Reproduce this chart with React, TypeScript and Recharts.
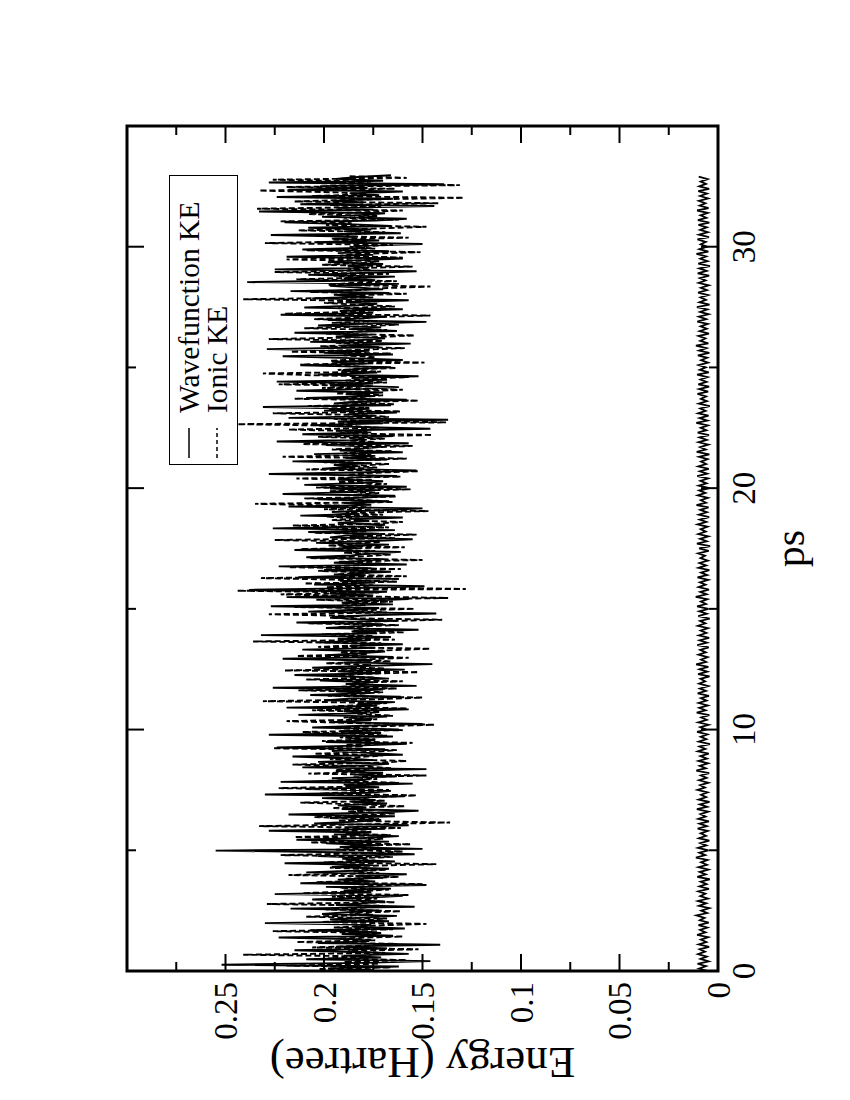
import React from 'react';
import { LineChart, Line, XAxis, YAxis } from 'recharts';

// ---------------- data ----------------
// time sampling (ps) of each series
const IONIC_START_PS = 0.0;
const IONIC_STEP_PS = 0.075;
const BAND_START_PS = 0.035;
const BAND_STEP_PS = 0.075;
const WAVE_START_PS = 0.0;
const WAVE_STEP_PS = 0.1;

// Ionic KE (Hartree), dashed
const IONIC_KE = [
  0.181,0.203,0.166,0.219,0.172,0.190,0.158,0.198,0.176,0.241,
  0.169,0.188,0.152,0.206,0.179,0.163,0.214,0.174,0.193,0.160,
  0.184,0.171,0.226,0.165,0.195,0.177,0.148,0.201,0.182,0.168,
  0.209,0.175,0.187,0.161,0.199,0.180,0.170,0.229,0.164,0.186,
  0.173,0.196,0.157,0.211,0.183,0.167,0.192,0.176,0.150,0.204,
  0.178,0.189,0.162,0.218,0.172,0.185,0.168,0.197,0.181,0.143,
  0.200,0.174,0.191,0.165,0.222,0.179,0.160,0.194,0.175,0.187,
  0.156,0.207,0.180,0.170,0.215,0.166,0.189,0.176,0.198,0.161,
  0.233,0.178,0.136,0.193,0.172,0.205,0.183,0.164,0.188,0.174,
  0.196,0.159,0.182,0.212,0.169,0.186,0.175,0.153,0.202,0.180,
  0.167,0.223,0.177,0.190,0.162,0.199,0.173,0.185,0.148,0.208,
  0.179,0.194,0.166,0.181,0.216,0.171,0.158,0.197,0.184,0.170,
  0.205,0.176,0.163,0.226,0.180,0.189,0.155,0.201,0.174,0.192,
  0.168,0.182,0.211,0.160,0.195,0.177,0.144,0.187,0.219,0.173,
  0.190,0.165,0.183,0.172,0.206,0.158,0.196,0.179,0.168,0.231,
  0.175,0.150,0.198,0.184,0.170,0.213,0.163,0.191,0.178,0.186,
  0.160,0.209,0.174,0.195,0.181,0.152,0.220,0.169,0.188,0.176,
  0.199,0.166,0.183,0.157,0.214,0.178,0.192,0.170,0.146,0.203,
  0.180,0.171,0.236,0.164,0.189,0.175,0.201,0.159,0.185,0.177,
  0.193,0.162,0.208,0.176,0.140,0.197,0.182,0.228,0.168,0.187,
  0.154,0.215,0.179,0.191,0.165,0.204,0.137,0.186,0.222,0.172,
  0.244,0.128,0.199,0.175,0.210,0.163,0.188,0.232,0.158,0.195,
  0.177,0.203,0.161,0.218,0.184,0.169,0.193,0.150,0.207,0.180,
  0.166,0.190,0.174,0.212,0.159,0.198,0.183,0.171,0.225,0.164,
  0.187,0.153,0.205,0.178,0.194,0.167,0.216,0.175,0.160,0.196,
  0.182,0.199,0.170,0.189,0.147,0.200,0.176,0.192,0.235,0.165,
  0.178,0.210,0.163,0.185,0.172,0.197,0.156,0.204,0.181,0.168,
  0.193,0.175,0.214,0.161,0.188,0.179,0.152,0.209,0.173,0.186,
  0.167,0.200,0.184,0.158,0.221,0.176,0.190,0.165,0.196,0.180,
  0.155,0.211,0.174,0.187,0.169,0.203,0.145,0.192,0.178,0.218,
  0.172,0.186,0.244,0.138,0.183,0.195,0.167,0.179,0.226,0.161,
  0.198,0.177,0.208,0.164,0.190,0.152,0.215,0.181,0.170,0.194,
  0.184,0.160,0.201,0.175,0.223,0.168,0.189,0.178,0.157,0.206,
  0.231,0.171,0.193,0.163,0.186,0.212,0.149,0.197,0.180,0.174,
  0.190,0.166,0.217,0.183,0.159,0.202,0.176,0.194,0.170,0.228,
  0.177,0.154,0.199,0.185,0.168,0.210,0.181,0.162,0.196,0.173,
  0.205,0.179,0.146,0.220,0.187,0.171,0.193,0.164,0.183,0.200,
  0.169,0.241,0.175,0.191,0.158,0.207,0.182,0.173,0.146,0.198,
  0.186,0.163,0.214,0.178,0.195,0.167,0.225,0.176,0.188,0.155,
  0.201,0.180,0.172,0.219,0.160,0.192,0.184,0.151,0.209,0.174,
  0.187,0.165,0.230,0.178,0.196,0.157,0.204,0.183,0.169,0.213,
  0.176,0.148,0.199,0.186,0.222,0.162,0.190,0.173,0.208,0.181,
  0.160,0.234,0.171,0.197,0.142,0.215,0.183,0.129,0.206,0.178,
  0.193,0.233,0.164,0.219,0.131,0.202,0.176,0.226,0.158,0.188,
];

// second (solid) trace in the upper band, no legend entry
const BAND_SOLID = [
  0.175,0.198,0.162,0.252,0.180,0.146,0.209,0.171,0.190,0.157,
  0.186,0.215,0.168,0.194,0.141,0.203,0.177,0.183,0.223,0.165,
  0.191,0.173,0.207,0.159,0.185,0.176,0.230,0.167,0.197,0.181,
  0.163,0.201,0.188,0.172,0.217,0.154,0.194,0.179,0.169,0.206,
  0.180,0.160,0.225,0.176,0.190,0.166,0.199,0.148,0.212,0.174,
  0.193,0.170,0.184,0.158,0.209,0.181,0.167,0.196,0.175,0.220,
  0.164,0.189,0.178,0.203,0.154,0.185,0.255,0.150,0.192,0.172,
  0.199,0.167,0.214,0.180,0.162,0.195,0.176,0.228,0.169,0.187,
  0.157,0.205,0.183,0.171,0.197,0.164,0.218,0.175,0.152,0.191,
  0.180,0.193,0.168,0.186,0.174,0.201,0.159,0.230,0.177,0.166,
  0.209,0.172,0.189,0.155,0.222,0.179,0.196,0.163,0.185,0.170,
  0.194,0.148,0.211,0.181,0.167,0.203,0.175,0.189,0.216,0.160,
  0.178,0.196,0.169,0.224,0.183,0.158,0.199,0.174,0.187,0.165,
  0.228,0.171,0.192,0.162,0.206,0.180,0.150,0.197,0.176,0.185,
  0.168,0.213,0.179,0.190,0.157,0.219,0.173,0.183,0.164,0.200,
  0.186,0.161,0.207,0.177,0.194,0.170,0.226,0.153,0.189,0.175,
  0.202,0.167,0.184,0.215,0.172,0.193,0.159,0.206,0.180,0.145,
  0.190,0.176,0.221,0.165,0.198,0.182,0.169,0.211,0.174,0.187,
  0.160,0.204,0.178,0.193,0.166,0.232,0.173,0.186,0.152,0.199,
  0.181,0.170,0.214,0.163,0.188,0.196,0.177,0.143,0.208,0.184,
  0.172,0.227,0.165,0.191,0.180,0.157,0.219,0.175,0.197,0.168,
  0.238,0.183,0.149,0.205,0.174,0.192,0.162,0.213,0.179,0.188,
  0.166,0.200,0.176,0.223,0.158,0.195,0.181,0.170,0.209,0.186,
  0.178,0.161,0.215,0.183,0.191,0.167,0.204,0.175,0.155,0.197,
  0.189,0.172,0.208,0.164,0.226,0.180,0.169,0.193,0.177,0.185,
  0.160,0.212,0.182,0.196,0.171,0.150,0.218,0.176,0.190,0.167,
  0.203,0.179,0.164,0.221,0.185,0.174,0.197,0.158,0.210,0.181,
  0.170,0.193,0.186,0.163,0.228,0.177,0.153,0.201,0.184,0.195,
  0.176,0.216,0.168,0.189,0.174,0.205,0.160,0.192,0.181,0.171,
  0.199,0.157,0.224,0.179,0.187,0.165,0.211,0.176,0.194,0.146,
  0.182,0.206,0.170,0.193,0.137,0.218,0.175,0.188,0.163,0.200,
  0.177,0.231,0.166,0.195,0.183,0.158,0.209,0.174,0.189,0.170,
  0.214,0.180,0.162,0.197,0.175,0.224,0.168,0.186,0.152,0.203,
  0.173,0.191,0.184,0.166,0.212,0.178,0.196,0.160,0.187,0.221,
  0.165,0.200,0.177,0.229,0.172,0.190,0.156,0.207,0.181,0.169,
  0.194,0.176,0.215,0.163,0.186,0.171,0.203,0.182,0.148,0.198,
  0.180,0.168,0.222,0.175,0.192,0.160,0.210,0.185,0.173,0.189,
  0.157,0.206,0.179,0.195,0.167,0.217,0.170,0.183,0.197,0.162,
  0.239,0.174,0.190,0.164,0.208,0.181,0.153,0.225,0.177,0.188,
  0.170,0.198,0.184,0.160,0.219,0.175,0.193,0.167,0.211,0.179,
  0.185,0.150,0.204,0.172,0.196,0.183,0.227,0.161,0.190,0.176,
  0.208,0.166,0.188,0.220,0.174,0.158,0.201,0.182,0.169,0.233,
  0.175,0.193,0.144,0.212,0.180,0.196,0.165,0.224,0.172,0.187,
  0.160,0.218,0.178,0.202,0.139,0.228,0.170,0.194,0.183,0.166,
];

// Wavefunction KE (Hartree), solid, close to zero
const WAVEFUNCTION_KE = [
  0.0052,0.0096,0.0061,0.0104,0.0048,0.0089,0.0057,0.0101,0.0066,0.0093,
  0.0045,0.0098,0.0059,0.0087,0.0050,0.0106,0.0063,0.0091,0.0054,0.0099,
  0.0047,0.0092,0.0068,0.0109,0.0055,0.0085,0.0044,0.0097,0.0060,0.0102,
  0.0051,0.0090,0.0064,0.0100,0.0046,0.0094,0.0058,0.0088,0.0042,0.0105,
  0.0062,0.0093,0.0049,0.0099,0.0056,0.0086,0.0053,0.0112,0.0065,0.0095,
  0.0048,0.0101,0.0059,0.0090,0.0044,0.0097,0.0061,0.0088,0.0052,0.0103,
  0.0057,0.0094,0.0046,0.0100,0.0063,0.0089,0.0050,0.0107,0.0055,0.0092,
  0.0043,0.0098,0.0060,0.0086,0.0053,0.0104,0.0066,0.0091,0.0049,0.0096,
  0.0058,0.0087,0.0045,0.0110,0.0062,0.0093,0.0051,0.0099,0.0056,0.0089,
  0.0047,0.0102,0.0064,0.0094,0.0041,0.0097,0.0059,0.0088,0.0054,0.0106,
  0.0060,0.0090,0.0048,0.0100,0.0057,0.0085,0.0044,0.0108,0.0063,0.0095,
  0.0052,0.0098,0.0058,0.0087,0.0046,0.0103,0.0061,0.0092,0.0050,0.0096,
  0.0065,0.0089,0.0043,0.0101,0.0055,0.0094,0.0049,0.0111,0.0060,0.0086,
  0.0053,0.0099,0.0062,0.0090,0.0047,0.0105,0.0056,0.0093,0.0045,0.0097,
  0.0059,0.0088,0.0051,0.0102,0.0064,0.0091,0.0042,0.0100,0.0057,0.0095,
  0.0048,0.0106,0.0061,0.0087,0.0054,0.0113,0.0058,0.0090,0.0046,0.0098,
  0.0063,0.0092,0.0050,0.0104,0.0055,0.0086,0.0044,0.0099,0.0060,0.0094,
  0.0052,0.0089,0.0066,0.0101,0.0047,0.0096,0.0040,0.0107,0.0057,0.0091,
  0.0049,0.0100,0.0062,0.0088,0.0053,0.0103,0.0059,0.0093,0.0045,0.0097,
  0.0056,0.0090,0.0048,0.0109,0.0061,0.0087,0.0051,0.0102,0.0064,0.0095,
  0.0043,0.0098,0.0058,0.0089,0.0050,0.0105,0.0055,0.0092,0.0047,0.0100,
  0.0060,0.0086,0.0053,0.0096,0.0044,0.0108,0.0062,0.0091,0.0049,0.0099,
  0.0057,0.0094,0.0046,0.0103,0.0059,0.0088,0.0052,0.0110,0.0054,0.0093,
  0.0048,0.0101,0.0063,0.0090,0.0042,0.0097,0.0056,0.0087,0.0061,0.0104,
  0.0050,0.0095,0.0045,0.0100,0.0058,0.0089,0.0053,0.0106,0.0047,0.0092,
  0.0062,0.0098,0.0051,0.0086,0.0055,0.0102,0.0044,0.0096,0.0059,0.0112,
  0.0049,0.0090,0.0064,0.0099,0.0046,0.0093,0.0057,0.0088,0.0052,0.0105,
  0.0060,0.0097,0.0048,0.0091,0.0054,0.0107,0.0043,0.0094,0.0061,0.0089,
  0.0050,0.0101,0.0056,0.0087,0.0047,0.0098,0.0063,0.0092,0.0045,0.0103,
  0.0058,0.0095,0.0041,0.0100,0.0053,0.0090,0.0060,0.0109,0.0049,0.0094,
  0.0055,0.0088,0.0062,0.0104,0.0046,0.0096,0.0051,0.0091,0.0057,0.0099,
  0.0044,0.0102,0.0059,0.0089,0.0052,0.0106,0.0048,0.0093,0.0064,0.0097,
  0.0050,0.0091,0.0056,0.0100,0.0045,0.0095,0.0061,0.0088,0.0053,0.0098,
];

const PS_TICKS = [0, 5, 10, 15, 20, 25, 30, 35];
const PS_DOMAIN: [number, number] = [0, 35];
const ENERGY_TICKS = [0, 0.025, 0.05, 0.075, 0.1, 0.125, 0.15, 0.175, 0.2, 0.225, 0.25, 0.275, 0.3];
const ENERGY_DOMAIN: [number, number] = [0, 0.3];
const ENERGY_LABELLED_MAX = 0.25;

const X_TITLE = 'ps';
const Y_TITLE = 'Energy (Hartree)';
const LEGEND_WAVE = 'Wavefunction KE';
const LEGEND_IONIC = 'Ionic KE';

// ---------------- layout ----------------
const CHART_W = 1100;
const CHART_H = 850;
const MARGIN = { top: 127, right: 126, bottom: 82, left: 69 };
const X_AXIS_H = 50;
const Y_AXIS_W = 60;
const PLOT_LEFT = MARGIN.left + Y_AXIS_W;
const PLOT_RIGHT = CHART_W - MARGIN.right;
const PLOT_TOP = MARGIN.top;
const PLOT_BOTTOM = CHART_H - MARGIN.bottom - X_AXIS_H;
const FONT = "'Liberation Serif', 'Times New Roman', Times, serif";
const TICK_FONT = 33;
const DASH = '6 3';

const toSeries = (vals: number[], start: number, step: number) =>
  vals.map((e, i) => ({ ps: +(start + i * step).toFixed(4), e }));

const ionicData = toSeries(IONIC_KE, IONIC_START_PS, IONIC_STEP_PS);
const bandData = toSeries(BAND_SOLID, BAND_START_PS, BAND_STEP_PS);
const waveData = toSeries(WAVEFUNCTION_KE, WAVE_START_PS, WAVE_STEP_PS);

function PsTick(props: any) {
  const { payload } = props;
  const v = payload.value as number;
  const cx = payload.coordinate ?? props.x;
  const major = v % 10 === 0;
  const len = major ? 17 : 9;
  return (
    <g>
      <line x1={cx} x2={cx} y1={PLOT_BOTTOM} y2={PLOT_BOTTOM - len} stroke="#000" strokeWidth={2} />
      <line x1={cx} x2={cx} y1={PLOT_TOP} y2={PLOT_TOP + len} stroke="#000" strokeWidth={2} />
      {major && (
        <text x={cx} y={PLOT_BOTTOM + 14} dy="0.71em" textAnchor="middle" fontFamily={FONT} fontSize={TICK_FONT} fill="#000">
          {String(v)}
        </text>
      )}
    </g>
  );
}

function EnergyTick(props: any) {
  const { payload } = props;
  const v = payload.value as number;
  const cy = payload.coordinate ?? props.y;
  const major = Math.round(v * 1000) % 50 === 0;
  const len = major ? 17 : 9;
  return (
    <g>
      <line x1={PLOT_LEFT} x2={PLOT_LEFT + len} y1={cy} y2={cy} stroke="#000" strokeWidth={2} />
      <line x1={PLOT_RIGHT} x2={PLOT_RIGHT - len} y1={cy} y2={cy} stroke="#000" strokeWidth={2} />
      {major && v <= ENERGY_LABELLED_MAX + 1e-9 && (
        <text x={PLOT_LEFT - 11} y={cy} dy="0.35em" textAnchor="end" fontFamily={FONT} fontSize={TICK_FONT} fill="#000">
          {String(v)}
        </text>
      )}
    </g>
  );
}

function LegendBox() {
  const row = (label: string, dash?: string) => (
    <div style={{ display: 'flex', alignItems: 'center', height: 28 }}>
      <svg width={30} height={10} style={{ marginLeft: 6, marginRight: 15, flex: 'none' }}>
        <line x1={0} x2={30} y1={5} y2={5} stroke="#000" strokeWidth={1.5} strokeDasharray={dash} />
      </svg>
      <span style={{ fontFamily: FONT, fontSize: 29.5, lineHeight: '28px', whiteSpace: 'nowrap' }}>{label}</span>
    </div>
  );
  return (
    <div
      style={{
        position: 'absolute',
        left: 635,
        top: 169,
        width: 290,
        height: 69,
        boxSizing: 'border-box',
        border: '1.5px solid #000',
        background: '#fff',
        paddingTop: 5,
      }}
    >
      {row(LEGEND_WAVE)}
      {row(LEGEND_IONIC, '4 3')}
    </div>
  );
}

export default function App() {
  return (
    <div style={{ position: 'absolute', left: 0, top: 0, width: 850, height: 1100, overflow: 'hidden', background: '#fff' }}>
      <div
        style={{
          position: 'absolute',
          left: 0,
          top: 0,
          width: CHART_W,
          height: CHART_H,
          transformOrigin: '0 0',
          transform: `translate(0px, ${CHART_W}px) rotate(-90deg)`,
        }}
      >
        <LineChart width={CHART_W} height={CHART_H} margin={MARGIN}>
          <XAxis
            type="number"
            dataKey="ps"
            domain={PS_DOMAIN}
            ticks={PS_TICKS}
            height={X_AXIS_H}
            axisLine={false}
            tickLine={false}
            tick={<PsTick />}
            interval={0}
            allowDataOverflow
          />
          <YAxis
            type="number"
            dataKey="e"
            domain={ENERGY_DOMAIN}
            ticks={ENERGY_TICKS}
            width={Y_AXIS_W}
            axisLine={false}
            tickLine={false}
            tick={<EnergyTick />}
            interval={0}
            allowDataOverflow
          />
          <Line data={bandData} dataKey="e" type="linear" stroke="#000" strokeWidth={1.9} dot={false} isAnimationActive={false} legendType="none" />
          <Line data={ionicData} dataKey="e" type="linear" stroke="#000" strokeWidth={1.9} strokeDasharray={DASH} dot={false} isAnimationActive={false} name={LEGEND_IONIC} />
          <Line data={waveData} dataKey="e" type="linear" stroke="#000" strokeWidth={1.8} dot={false} isAnimationActive={false} name={LEGEND_WAVE} />
        </LineChart>
        <svg width={CHART_W} height={CHART_H} style={{ position: 'absolute', left: 0, top: 0, pointerEvents: 'none' }}>
          <rect
            x={PLOT_LEFT}
            y={PLOT_TOP}
            width={PLOT_RIGHT - PLOT_LEFT}
            height={PLOT_BOTTOM - PLOT_TOP}
            fill="none"
            stroke="#000"
            strokeWidth={3}
          />
          <text
            x={(PLOT_LEFT + PLOT_RIGHT) / 2}
            y={PLOT_BOTTOM + 56}
            dy="0.71em"
            textAnchor="middle"
            fontFamily={FONT}
            fontSize={42}
          >
            {X_TITLE}
          </text>
          <text
            transform={`translate(36, ${(PLOT_TOP + PLOT_BOTTOM) / 2}) rotate(-90)`}
            dy="0.35em"
            textAnchor="middle"
            fontFamily={FONT}
            fontSize={45}
          >
            {Y_TITLE}
          </text>
        </svg>
        <LegendBox />
      </div>
    </div>
  );
}
